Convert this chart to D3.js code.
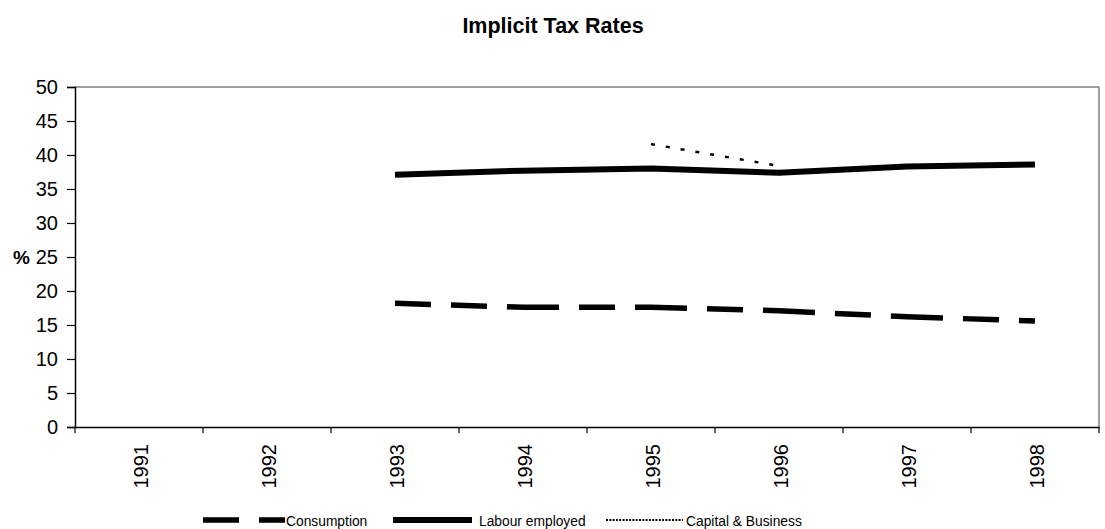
<!DOCTYPE html>
<html><head><meta charset="utf-8">
<script src="https://cdn.jsdelivr.net/npm/d3@7"></script>
<style>body{margin:0;background:#fff}svg{display:block;font-family:"Liberation Sans",Arial,sans-serif}</style>
</head><body>
<svg id="c" width="1105" height="529"></svg>
<script>
const years = ["1991","1992","1993","1994","1995","1996","1997","1998"];
const consumption = [null,null,18.2,17.6,17.6,17.1,16.2,15.6];
const labour = [null,null,37.1,37.7,38.0,37.4,38.3,38.6];
const capital = [null,null,null,null,41.6,38.4,null,null];
const yTicks = [0,5,10,15,20,25,30,35,40,45,50];

const svg = d3.select("#c");
const L=75,R=1099,T=87,B=427;
const x = d3.scaleBand().domain(years).range([L,R]);
const y = d3.scaleLinear().domain([0,50]).range([B,T]);

svg.append("text").attr("x",553).attr("y",33).attr("text-anchor","middle")
  .attr("font-weight","bold").attr("font-size",21.5).text("Implicit Tax Rates");

// border top/right
svg.append("line").attr("x1",L).attr("x2",R).attr("y1",T).attr("y2",T).attr("stroke","#808080").attr("stroke-width",1.5);
svg.append("line").attr("x1",R).attr("x2",R).attr("y1",T).attr("y2",B).attr("stroke","#808080").attr("stroke-width",1.5);

const ya = svg.append("g").attr("transform",`translate(${L},0)`)
  .call(d3.axisLeft(y).tickValues(yTicks).tickSize(8).tickPadding(9));
ya.select(".domain").attr("stroke","#000").attr("stroke-width",1.5);
ya.selectAll(".tick line").attr("stroke","#000").attr("stroke-width",1.2);
ya.selectAll(".tick text").attr("font-size",20).attr("fill","#000").attr("font-family","Liberation Sans, Arial, sans-serif");

const xa = svg.append("g").attr("transform",`translate(0,${B})`)
  .call(d3.axisBottom(x).tickSize(0).tickPadding(0));
xa.select(".domain").attr("stroke","#000").attr("stroke-width",1.5);
xa.selectAll(".tick text").remove();
// boundary ticks
const bounds = years.map(d=>x(d)).concat([R]);
svg.append("g").selectAll("line").data(bounds).join("line")
  .attr("x1",d=>d).attr("x2",d=>d).attr("y1",B).attr("y2",B+6).attr("stroke","#000").attr("stroke-width",1.2);
svg.append("g").selectAll("text").data(years).join("text")
  .attr("transform",d=>`translate(${x(d)+x.bandwidth()/2+8.5},${B+17}) rotate(-90)`)
  .attr("text-anchor","end").attr("font-size",20).text(d=>d);

svg.append("text").attr("x",13).attr("y",y(25)+7).attr("font-weight","bold").attr("font-size",19).text("%");

const cx = i=>x(years[i])+x.bandwidth()/2;
// each segment drawn separately so the dash pattern restarts per segment
function segs(arr){
  const out=[];
  for(let i=0;i<arr.length-1;i++){
    if(arr[i]!=null && arr[i+1]!=null) out.push([[cx(i),y(arr[i])],[cx(i+1),y(arr[i+1])]]);
  }
  return out;
}
const line = d3.line();
svg.append("g").selectAll("path").data(segs(consumption)).join("path")
  .attr("d",line).attr("fill","none").attr("stroke","#000")
  .attr("stroke-width",5.5).attr("stroke-dasharray","36,20");
svg.append("path").attr("d",d3.line().defined(d=>d!=null).x((d,i)=>cx(i)).y(d=>y(d))(labour))
  .attr("fill","none").attr("stroke","#000").attr("stroke-width",6);
svg.append("g").selectAll("path").data(segs(capital)).join("path")
  .attr("d",line).attr("fill","none").attr("stroke","#000")
  .attr("stroke-width",2.5).attr("stroke-dasharray","4,11");

// legend
const ly = 520;
const lg = svg.append("g").attr("font-size",13.8);
lg.append("line").attr("x1",203).attr("x2",285).attr("y1",ly).attr("y2",ly).attr("stroke","#000").attr("stroke-width",5.5).attr("stroke-dasharray","36,20");
lg.append("text").attr("x",286).attr("y",ly+5.5).text("Consumption");
lg.append("line").attr("x1",393).attr("x2",472).attr("y1",ly).attr("y2",ly).attr("stroke","#000").attr("stroke-width",6);
lg.append("text").attr("x",479).attr("y",ly+5.5).text("Labour employed");
lg.append("line").attr("x1",606).attr("x2",683).attr("y1",ly).attr("y2",ly).attr("stroke","#000").attr("stroke-width",2).attr("stroke-dasharray","2,1.3");
lg.append("text").attr("x",686).attr("y",ly+5.5).text("Capital & Business");
</script>
</body></html>
